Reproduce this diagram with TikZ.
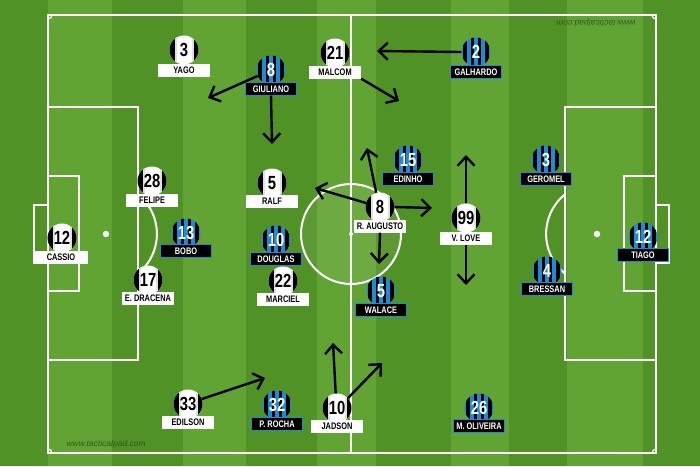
\documentclass[tikz,border=0pt]{standalone}
\usepackage{fontspec}
\newfontfamily\cond[FakeStretch=0.78]{Liberation Sans}
\newfontfamily\wmfont{Liberation Sans}
\usetikzlibrary{arrows.meta,calc}
\definecolor{grassA}{RGB}{98,164,52}
\definecolor{grassB}{RGB}{80,146,38}
\definecolor{tokblue}{RGB}{28,140,215}
\definecolor{wmark}{RGB}{40,75,22}
\tikzset{
  pline/.style={white, line width=2pt},
  cline/.style={white, line width=1.2pt},
  wtok/.style={circle, minimum size=29pt, inner sep=0pt, fill=white,
    font=\cond\bfseries\fontsize{19}{19}\selectfont, text=black,
    path picture={
      \fill[black] ([shift={(-16pt,-16pt)}]path picture bounding box.center) rectangle ([shift={(-9.5pt,16pt)}]path picture bounding box.center);
      \fill[black] ([shift={(9.5pt,-16pt)}]path picture bounding box.center) rectangle ([shift={(16pt,16pt)}]path picture bounding box.center);
      \fill[black!12] ([shift={(-9.5pt,-16pt)}]path picture bounding box.center) rectangle ([shift={(-7.5pt,16pt)}]path picture bounding box.center);
      \fill[black!12] ([shift={(7.5pt,-16pt)}]path picture bounding box.center) rectangle ([shift={(9.5pt,16pt)}]path picture bounding box.center);
    }},
  btok/.style={circle, minimum size=29pt, inner sep=0pt, fill=tokblue,
    font=\cond\bfseries\fontsize{19}{19}\selectfont, text=white,
    path picture={
      \foreach \s in {-1,1}{
        \fill[black] ([shift={(\s*1.8pt,-16pt)}]path picture bounding box.center) rectangle ([shift={(\s*5.4pt,16pt)}]path picture bounding box.center);
        \fill[black] ([shift={(\s*9pt,-16pt)}]path picture bounding box.center) rectangle ([shift={(\s*12.6pt,16pt)}]path picture bounding box.center);
      }
    }},
  wlab/.style={fill=white, minimum width=52pt, minimum height=13pt, inner sep=0pt,
    font=\cond\bfseries\fontsize{9.5}{9.5}\selectfont, text=black},
  blab/.style={fill=black, draw=tokblue, line width=0.8pt, minimum width=51pt, minimum height=12.5pt, inner sep=0pt,
    font=\cond\bfseries\fontsize{9.5}{9.5}\selectfont, text=white},
  mv/.style={black, line width=2.4pt, -{Straight Barb[length=9pt,width=17pt]}},
}
\begin{document}
\begin{tikzpicture}[x=1pt,y=-1pt]
\useasboundingbox (0,0) rectangle (700,466);
% grass
\fill[grassA] (0,0) rectangle (700,466);
\fill[grassB] (0,0) rectangle (48,466);
\foreach \a/\w in {112/71,246/71,376/75,509/58,643/57}{
  \fill[grassB] (\a,0) rectangle ($(\a,0)+(\w,466)$);
}
\fill[white, opacity=0.07] (351,234) circle[radius=50];
% pitch lines
\draw[pline] (48,15) rectangle (656,453);
\draw[pline] (351,15) -- (351,453);
\draw[pline] (351,234) circle[radius=50];
\fill[white] (351,234) circle[radius=2];
% left side
\draw[pline] (48,107) rectangle (138,360);
\draw[pline] (48,176) rectangle (79,291);
\draw[pline] (48,205) -- (34,205) -- (34,263) -- (48,263);
\fill[white] (106,234) circle[radius=3.2];
\draw[pline] (138,194.3) arc[start angle=-51, end angle=51, radius=51];
% right side
\draw[pline] (565,107) rectangle (656,360);
\draw[pline] (624,176) rectangle (656,291);
\draw[pline] (656,205) -- (669,205) -- (669,263) -- (656,263);
\fill[white] (597,234) circle[radius=3.2];
\draw[pline] (565,194.3) arc[start angle=231, end angle=129, radius=51];
% corner arcs
\draw[cline] (48,19) arc[start angle=90, end angle=0, radius=4];
\draw[cline] (652,15) arc[start angle=180, end angle=90, radius=4];
\draw[cline] (48,449) arc[start angle=-90, end angle=0, radius=4];
\draw[cline] (652,453) arc[start angle=180, end angle=270, radius=4];
% watermarks
\node[text=wmark, font=\wmfont\itshape\fontsize{8.5}{8.5}\selectfont, opacity=0.8] (wm1) at (106,444) {www.tacticalpad.com};
\node[text=wmark, font=\wmfont\itshape\fontsize{8.5}{8.5}\selectfont, opacity=0.8, rotate=180] (wm2) at (596,23) {www.tacticalpad.com};

% white team tokens
\node[wtok] (yago) at (184,50) {3};
\node[wtok] (mal) at (335,53) {21};
\node[wtok] (fel) at (152,181) {28};
\node[wtok] (ralf) at (272,183) {5};
\node[wtok] (cas) at (62,238) {12};
\node[wtok] (dra) at (148,280) {17};
\node[wtok] (mar) at (283,281) {22};
\node[wtok] (rau) at (380,207) {8};
\node[wtok] (vlo) at (466,218) {99};
\node[wtok] (edi) at (188,404) {33};
\node[wtok] (jad) at (337,408) {10};
% blue team tokens
\node[btok] (giu) at (271,70) {8};
\node[btok] (gal) at (476,52) {2};
\node[btok] (edh) at (408,160) {15};
\node[btok] (ger) at (546,160) {3};
\node[btok] (bob) at (186,233) {13};
\node[btok] (dou) at (276,240) {10};
\node[btok] (wal) at (381,291) {5};
\node[btok] (bre) at (547,271) {4};
\node[btok] (tia) at (643,237) {12};
\node[btok] (roc) at (277,405) {32};
\node[btok] (oli) at (479,408) {26};

% labels
\node[wlab] (yagoL) at (184,70) {YAGO};
\node[wlab] (malL) at (335,72) {MALCOM};
\node[wlab] (felL) at (152,200) {FELIPE};
\node[wlab] (ralfL) at (272,201) {RALF};
\node[wlab, minimum width=54pt] (casL) at (61,257) {CASSIO};
\node[wlab] (draL) at (148,298) {E. DRACENA};
\node[wlab] (marL) at (283,299) {MARCIEL};
\node[wlab] (rauL) at (380,226) {R. AUGUSTO};
\node[wlab] (vloL) at (466,238) {V. LOVE};
\node[wlab] (ediL) at (188,422) {EDILSON};
\node[wlab] (jadL) at (337,426) {JADSON};
\node[blab] (giuL) at (271,89) {GIULIANO};
\node[blab] (galL) at (476,72) {GALHARDO};
\node[blab] (edhL) at (408,179) {EDINHO};
\node[blab] (gerL) at (546,179) {GEROMEL};
\node[blab] (bobL) at (186,251) {BOBO};
\node[blab] (douL) at (276,259) {DOUGLAS};
\node[blab] (walL) at (381,310) {WALACE};
\node[blab] (breL) at (547,289) {BRESSAN};
\node[blab] (tiaL) at (643,255) {TIAGO};
\node[blab] (rocL) at (277,424) {P. ROCHA};
\node[blab] (oliL) at (479,426) {M. OLIVEIRA};

% arrow end points
\coordinate (a1) at (208,98);
\coordinate (a2) at (272,144);
\coordinate (a3) at (399,101);
\coordinate (a4) at (377,51);
\coordinate (a5) at (367,148);
\coordinate (a6) at (432,208);
\coordinate (a7) at (315,188);
\coordinate (a8) at (379,264);
\coordinate (a9) at (466,155);
\coordinate (a10) at (466,285);
\coordinate (a11) at (265,378);
\coordinate (a12) at (333,343);
\coordinate (a13) at (382,363);
% arrows
\draw[mv] (giu.204) -- (a1);
\draw[mv] (giuL.south) -- (a2);
\draw[mv] (malL.south east) -- (a3);
\draw[mv] (gal.west) -- (a4);
\draw[mv] (rau.105) -- (a5);
\draw[mv] (rau.east) -- (a6);
\draw[mv] (rau.164) -- (a7);
\draw[mv] (rauL.south) -- (a8);
\draw[mv] (vlo.north) -- (a9);
\draw[mv] (vloL.south) -- (a10);
\draw[mv] (edi.20) -- (a11);
\draw[mv] (jad.95) -- (a12);
\draw[mv] (jad.42) -- (a13);
\end{tikzpicture}
\end{document}
